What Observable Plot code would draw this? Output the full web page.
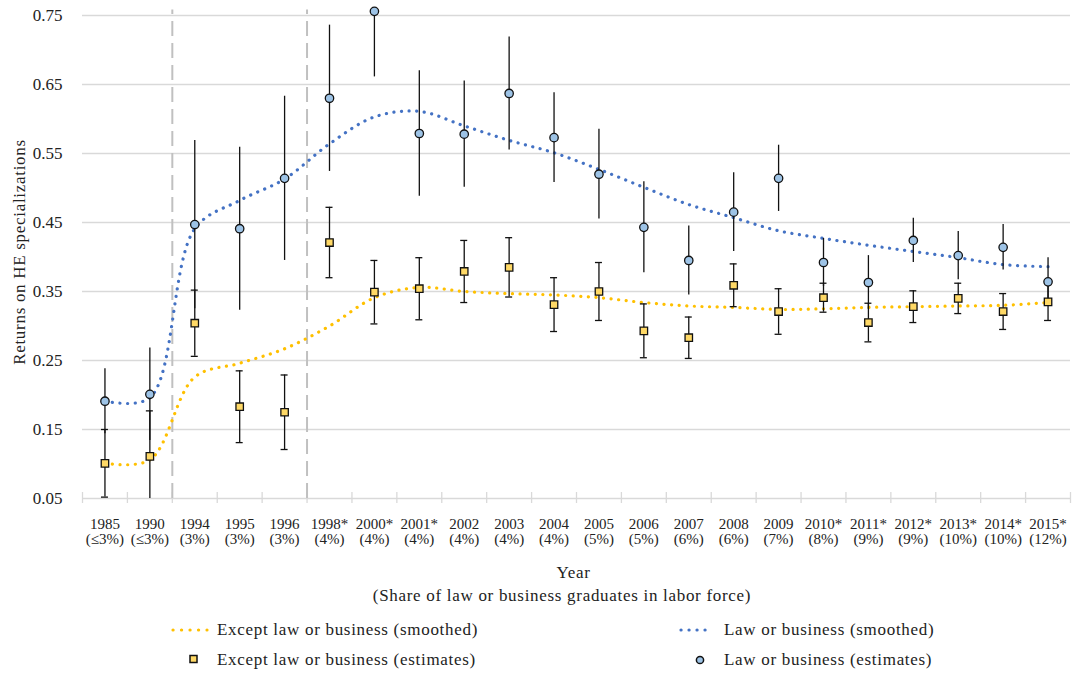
<!DOCTYPE html>
<html><head><meta charset="utf-8">
<script src="https://cdn.jsdelivr.net/npm/d3@7"></script>
<script src="https://cdn.jsdelivr.net/npm/@observablehq/plot@0.6"></script>
<style>
body{margin:0;background:#fff;}
#wrap{position:relative;width:1073px;height:673px;font-family:"Liberation Serif","Times New Roman",Tinos,"DejaVu Serif","Noto Serif",serif;color:#222;overflow:hidden;}
#wrap svg.plot{position:absolute;left:0;top:0;}
.t{position:absolute;font-size:17px;letter-spacing:0.7px;white-space:nowrap;line-height:1;}
.c{transform:translateX(-50%);}
.sw{position:absolute;overflow:visible;}
</style></head><body><div id="wrap"></div>
<script>
const categories = ["1985","1990","1994","1995","1996","1998*","2000*","2001*","2002","2003","2004","2005","2006","2007","2008","2009","2010*","2011*","2012*","2013*","2014*","2015*"];
const shares = ["(≤3%)","(≤3%)","(3%)","(3%)","(3%)","(4%)","(4%)","(4%)","(4%)","(4%)","(4%)","(5%)","(5%)","(6%)","(6%)","(7%)","(8%)","(9%)","(9%)","(10%)","(10%)","(12%)"];
const lawEst = [0.191,0.201,0.447,0.441,0.514,0.630,0.756,0.579,0.578,0.637,0.573,0.520,0.443,0.395,0.465,0.514,0.392,0.363,0.424,0.402,0.414,0.364];
const lawErr = [0.047,0.067,0.122,0.118,0.119,0.106,0.095,0.091,0.077,0.082,0.065,0.065,0.066,0.050,0.057,0.048,0.035,0.039,0.032,0.035,0.033,0.035];
const otherEst = [0.101,0.111,0.304,0.183,0.175,0.421,0.349,0.354,0.379,0.385,0.331,0.350,0.293,0.283,0.359,0.321,0.341,0.305,0.328,0.340,0.321,0.335];
const otherErr = [0.049,0.066,0.048,0.052,0.054,0.051,0.046,0.045,0.045,0.043,0.039,0.042,0.039,0.030,0.031,0.033,0.021,0.028,0.023,0.022,0.026,0.027];
const lawSmooth = [0.191,0.196,0.441,0.482,0.513,0.564,0.603,0.611,0.590,0.569,0.551,0.527,0.501,0.476,0.457,0.438,0.427,0.417,0.408,0.399,0.389,0.386];
const otherSmooth = [0.101,0.106,0.226,0.246,0.267,0.300,0.341,0.356,0.350,0.347,0.345,0.341,0.334,0.329,0.327,0.324,0.325,0.327,0.328,0.329,0.330,0.334];
const yTicks = [0.05,0.15,0.25,0.35,0.45,0.55,0.65,0.75];
const breaks = ["1994","1998*"];
const legendItems = ["Except law or business (smoothed)","Law or business (smoothed)","Except law or business (estimates)","Law or business (estimates)"];
const xTitle = "Year";
const xSubtitle = "(Share of law or business graduates in labor force)";
const yTitle = "Returns on HE specializations";

const FONT = '"Liberation Serif","Times New Roman",Tinos,"DejaVu Serif","Noto Serif",serif';
const YELLOW = "#FFC000", BLUE = "#4472C4", SQFILL = "#FFD966", CIRFILL = "#9DC3E6", GRID = "#d9d9d9";

const rows = categories.map((c,i)=>({c, law: lawEst[i], lawE: lawErr[i], oth: otherEst[i], othE: otherErr[i], lawS: lawSmooth[i], othS: otherSmooth[i]}));
const W = 1073, H = 556, ML = 82, MR = 3, MT = 15, BOTTOM = 498;
const half = (W - ML - MR) / categories.length / 2;
const last = categories[categories.length-1];

const plot = Plot.plot({
  width: W, height: H, marginTop: MT, marginBottom: H - BOTTOM, marginLeft: ML, marginRight: MR,
  className: "plot",
  style: {fontFamily: FONT, background: "transparent", color: "#222", overflow: "visible"},
  x: {type: "point", domain: categories, padding: 0.5, round: false, label: null},
  y: {domain: [0.05, 0.75], label: null},
  marks: [
    Plot.ruleY(yTicks, {stroke: GRID, strokeWidth: 1.3}),
    Plot.ruleX(categories, {x: d => d, y1: 0.05, y2: 0.05, insetTop: -6, insetBottom: -5, dx: -half, stroke: GRID, strokeWidth: 1.3}),
    Plot.ruleX([last], {x: d => d, y1: 0.05, y2: 0.05, insetTop: -6, insetBottom: -5, dx: half, stroke: GRID, strokeWidth: 1.3}),
    Plot.ruleX(breaks, {x: d => d, y1: 0.05, y2: 0.758, dx: -half, stroke: "#c0c0c0", strokeWidth: 2, strokeDasharray: "15 7"}),
    Plot.line(rows, {x: "c", y: "othS", curve: "catmull-rom", stroke: YELLOW, strokeWidth: 3.2, strokeDasharray: "0.1 7.5", strokeLinecap: "round"}),
    Plot.line(rows, {x: "c", y: "lawS", curve: "catmull-rom", stroke: BLUE, strokeWidth: 3.2, strokeDasharray: "0.1 7.5", strokeLinecap: "round"}),
    Plot.ruleX(rows, {x: "c", y1: d => d.law - d.lawE, y2: d => d.law + d.lawE, stroke: "#111", strokeWidth: 1.3, clip: true}),
    Plot.ruleX(rows, {x: "c", y1: d => d.oth - d.othE, y2: d => d.oth + d.othE, stroke: "#111", strokeWidth: 1.3, clip: true}),
    Plot.ruleY(rows, {x1: "c", x2: "c", y: d => d.oth - d.othE, insetLeft: -3.5, insetRight: -3.5, stroke: "#111", strokeWidth: 1.3, clip: true}),
    Plot.ruleY(rows, {x1: "c", x2: "c", y: d => d.oth + d.othE, insetLeft: -3.5, insetRight: -3.5, stroke: "#111", strokeWidth: 1.3, clip: true}),
    Plot.dot(rows, {x: "c", y: "oth", symbol: "square", r: 4.2, fill: SQFILL, stroke: "#111", strokeWidth: 1.3}),
    Plot.dot(rows, {x: "c", y: "law", r: 4.2, fill: CIRFILL, stroke: "#111", strokeWidth: 1.3}),
    Plot.axisY({ticks: yTicks, tickFormat: d => d.toFixed(2), tickSize: 0, tickPadding: 20, fontSize: 17, label: null}),
    Plot.axisX({tickSize: 0, tickPadding: 19, fontSize: 15, lineHeight: 1.05, tickFormat: d => d + "\n" + shares[categories.indexOf(d)], label: null})
  ]
});
const wrap = document.getElementById("wrap");
wrap.appendChild(plot);

function addText(txt, left, top, cls, extra) {
  const d = document.createElement("div");
  d.className = "t " + (cls || "");
  d.textContent = txt;
  d.style.left = left + "px";
  d.style.top = top + "px";
  if (extra) Object.assign(d.style, extra);
  wrap.appendChild(d);
  return d;
}
addText(xTitle, 573.5, 564, "c");
addText(xSubtitle, 562, 586.5, "c");
addText(yTitle, 18.5, 252, "", {transform: "translate(-50%,-50%) rotate(-90deg)", transformOrigin: "50% 50%"});

addText(legendItems[0], 217, 621);
addText(legendItems[1], 724, 621);
addText(legendItems[2], 217, 651);
addText(legendItems[3], 724, 651);

const NS = "http://www.w3.org/2000/svg";
function swatch(x, y, w, h, inner) {
  const s = document.createElementNS(NS, "svg");
  s.setAttribute("class", "sw");
  s.setAttribute("width", w); s.setAttribute("height", h);
  s.style.left = x + "px"; s.style.top = y + "px";
  s.innerHTML = inner;
  wrap.appendChild(s);
}
swatch(170, 625, 40, 10, `<line x1="3" y1="5" x2="37" y2="5" stroke="${YELLOW}" stroke-width="3.2" stroke-linecap="round" stroke-dasharray="0.1 8.4"/>`);
swatch(678, 625, 40, 10, `<line x1="3" y1="5" x2="35" y2="5" stroke="${BLUE}" stroke-width="3.2" stroke-linecap="round" stroke-dasharray="0.1 7.9"/>`);
swatch(186, 652, 15, 15, `<rect x="4" y="3.5" width="7" height="7" fill="${SQFILL}" stroke="#111" stroke-width="1.5"/>`);
swatch(693, 653, 15, 15, `<circle cx="7" cy="7" r="3.6" fill="${CIRFILL}" stroke="#111" stroke-width="1.5"/>`);
</script></body></html>
